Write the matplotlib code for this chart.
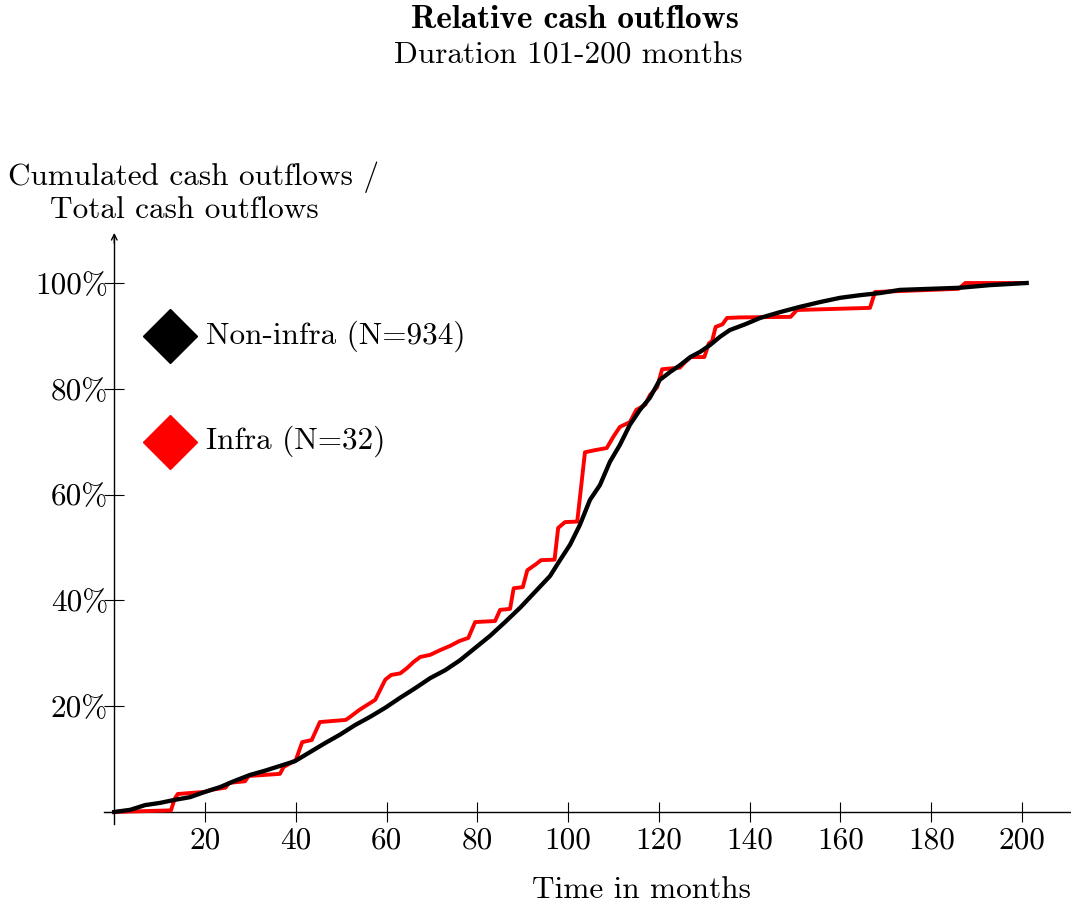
import matplotlib
matplotlib.use("Agg")
import matplotlib.pyplot as plt

plt.rcParams['font.family'] = ['cmr10', 'DejaVu Serif']
plt.rcParams['mathtext.fontset'] = 'cm'
plt.rcParams['axes.unicode_minus'] = False

# months / cumulated share (%)
non_infra_months = [0, 3.5, 6.8, 10, 13.4, 16.7, 20, 23.3, 26.6, 29.9, 33.2, 36.5, 39.8,
                    43.1, 46.4, 49.7, 53, 56.4, 59.7, 63, 66.3, 69.6, 72.9, 76.2, 79.5,
                    82.8, 86.1, 89.4, 92.7, 96, 98.2, 100.4, 102.6, 104.8, 107, 109.2,
                    111.4, 113.6, 115.8, 118, 120.2, 122.5, 124.7, 126.9, 129.1, 131.3,
                    133.4, 135.6, 139, 142.3, 146.7, 151.1, 155.5, 159.9, 164.3, 168.7,
                    173.1, 179.7, 186.3, 192.9, 201]
non_infra_share = [0, 0.4, 1.3, 1.7, 2.3, 2.8, 3.8, 4.7, 5.9, 7.0, 7.8, 8.7, 9.6,
                   11.3, 13.0, 14.6, 16.4, 18.0, 19.7, 21.6, 23.4, 25.3, 26.8, 28.7, 31.0,
                   33.3, 35.9, 38.6, 41.6, 44.6, 47.6, 50.5, 54.3, 59.0, 61.8, 66.2,
                   69.4, 73.2, 76.0, 78.3, 81.7, 83.2, 84.5, 86.0, 87.0, 88.3,
                   89.8, 91.1, 92.2, 93.4, 94.5, 95.5, 96.4, 97.2, 97.7, 98.1,
                   98.7, 98.9, 99.1, 99.6, 100]

infra_months = [0, 12.5, 13.3, 14, 20, 21.5, 24.5, 25.3, 28.8, 29.6, 36.5, 37.3, 40,
                41.4, 43.5, 45.3, 51, 52, 54, 57.5, 59.7, 61, 63, 64.5, 66, 67.4,
                69.6, 71.8, 74, 76, 78, 79.5, 83.9, 85, 87.2, 88, 90, 91, 93, 94,
                97, 97.8, 99.3, 102, 103.7, 105.9, 108.5, 110, 111.4, 113.6, 115,
                117, 118, 119.6, 120.7, 124.6, 125.7, 127, 130, 131, 131.7, 132.5,
                134, 135, 138, 149, 150.4, 166.5, 167.6, 186, 187.5, 201]
infra_share = [0, 0.3, 2.5, 3.4, 3.8, 4.2, 4.6, 5.5, 5.8, 6.8, 7.2, 8.5, 9.8,
               13.2, 13.6, 17.0, 17.4, 18.0, 19.3, 21.2, 25.0, 25.9, 26.2, 27.2, 28.4, 29.3,
               29.7, 30.6, 31.4, 32.3, 32.9, 35.9, 36.1, 38.2, 38.4, 42.3, 42.5, 45.7, 46.9, 47.6,
               47.7, 53.7, 54.8, 54.9, 68.0, 68.4, 68.8, 71.0, 72.8, 73.7, 76.0,
               77.0, 78.8, 80.3, 83.7, 84.0, 85.0, 86.0, 86.0, 88.6, 89.0, 91.7,
               92.2, 93.4, 93.5, 93.6, 94.9, 95.3, 98.3, 98.9, 100, 100]

series_labels = ['Non-infra (N=934)', 'Infra (N=32)']
series_colors = ['black', 'red']
x_ticks = [20, 40, 60, 80, 100, 120, 140, 160, 180, 200]
y_ticks = [0, 20, 40, 60, 80, 100]

legend_x = 12.3
legend_y = [90, 70]

FS = 22.5

fig = plt.figure(figsize=(10.71, 9.11), dpi=100)
ax = fig.add_axes([0.0961, 0.0942, 0.9027, 0.6532])
ax.set_xlim(-2.5, 210.5)
ax.set_ylim(-2.5, 110)

ax.plot(infra_months, infra_share, color='red', lw=2.8, zorder=3)
ax.plot(non_infra_months, non_infra_share, color='black', lw=3.1, zorder=4)

# legend drawn by hand next to the axis
for ly, lab, col in zip(legend_y, series_labels, series_colors):
    ax.plot([legend_x], [ly], marker='D', ms=27, color=col, ls='none', clip_on=False)
    ax.text(legend_x + 7.9, ly, lab, fontsize=FS, va='center', ha='left')

for side in ['top', 'right']:
    ax.spines[side].set_visible(False)
ax.spines['left'].set_position(('data', 0))
ax.spines['bottom'].set_position(('data', 0))
ax.spines['left'].set_bounds(-2.3, 109)
ax.spines['bottom'].set_bounds(-2.3, 210.5)
ax.spines['left'].set_linewidth(1.0)
ax.spines['bottom'].set_linewidth(1.0)
ax.annotate('', xy=(0, 110), xytext=(0, 107), xycoords='data',
            arrowprops=dict(arrowstyle='->', lw=1.0, mutation_scale=10), annotation_clip=False)

ax.set_xticks(x_ticks)
ax.set_xticklabels([str(t) for t in x_ticks])
ax.set_yticks(y_ticks)
ax.set_yticklabels(['' if t == 0 else f'{t}%' for t in y_ticks])
ax.tick_params(axis='both', direction='inout', length=15, width=0.8, labelsize=FS)
ax.tick_params(axis='y', pad=-3)
ax.tick_params(axis='x', pad=3)

fig.text(641 / 1071, 1 - 890 / 911, 'Time in months', fontsize=FS, ha='center', va='center')
fig.text(194 / 1071, 1 - 177 / 911, 'Cumulated cash outflows /', fontsize=FS, ha='center', va='center')
fig.text(184 / 1071, 1 - 210 / 911, 'Total cash outflows', fontsize=FS, ha='center', va='center')
fig.text(575 / 1071, 1 - 19 / 911, 'Relative cash outflows', fontsize=24, ha='center', va='center',
         family='cmb10')
fig.text(568 / 1071, 1 - 56 / 911, 'Duration 101-200 months', fontsize=FS, ha='center', va='center')

fig.savefig('out.png', dpi=100)
